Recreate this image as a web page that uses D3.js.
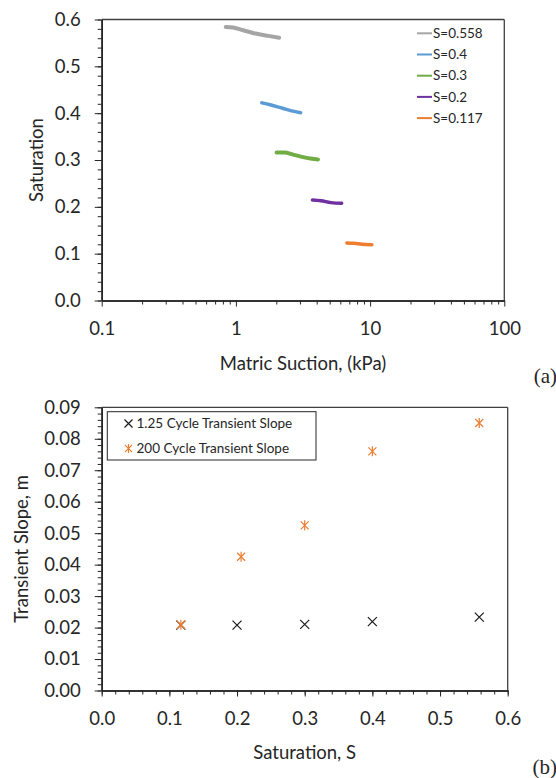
<!DOCTYPE html>
<html>
<head>
<meta charset="utf-8">
<script src="https://cdn.jsdelivr.net/npm/d3@7"></script>
<style>
  body { margin: 0; background: #fff; }
  svg text { font-family: Lato, "Open Sans", sans-serif; fill: #262626; }
  .axis path, .axis line { stroke: #262626; }
  .axis text { font-size: 18.5px; fill: #262626; }
</style>
</head>
<body>
<svg id="chart" width="556" height="778"></svg>
<script>

// ---- data, panel (a): suction (kPa) vs saturation, one short curve per test
var seriesNames = ["S=0.558", "S=0.4", "S=0.3", "S=0.2", "S=0.117"];
var seriesColors = ["#a5a5a5", "#5b9bd5", "#70ad47", "#7030a0", "#ed7d31"];
var suction558 = [0.84, 0.95, 1.1, 1.4, 1.75, 2.1];
var sat558     = [0.584, 0.583, 0.578, 0.570, 0.565, 0.561];
var suction04  = [1.56, 1.8, 2.2, 2.6, 3.04];
var sat04      = [0.422, 0.418, 0.411, 0.405, 0.401];
var suction03  = [2.01, 2.3, 2.7, 3.3, 4.09];
var sat03      = [0.316, 0.316, 0.311, 0.305, 0.301];
var suction02  = [3.72, 4.3, 5.1, 6.14];
var sat02      = [0.2146, 0.213, 0.209, 0.2076];
var suction0117 = [6.71, 7.6, 8.7, 10.3];
var sat0117     = [0.1228, 0.122, 0.120, 0.119];

var xTicksA = [0.1, 1, 10, 100];
var yTicksA = [0.0, 0.1, 0.2, 0.3, 0.4, 0.5, 0.6];

// ---- data, panel (b): transient slope vs saturation
var legendB = ["1.25 Cycle Transient Slope", "200 Cycle Transient Slope"];
var satCycle125   = [0.117, 0.2, 0.3, 0.4, 0.558];
var slopeCycle125 = [0.0208, 0.0208, 0.021, 0.0219, 0.0233];
var satCycle200   = [0.117, 0.206, 0.3, 0.4, 0.558];
var slopeCycle200 = [0.0209, 0.0425, 0.0525, 0.076, 0.085];

var xTicksB = [0.0, 0.1, 0.2, 0.3, 0.4, 0.5, 0.6];
var yTicksB = [0.00, 0.01, 0.02, 0.03, 0.04, 0.05, 0.06, 0.07, 0.08, 0.09];

var svg = d3.select("#chart");

// ================= panel (a) =================
var a = { left: 101.7, right: 504.3, top: 19.5, bottom: 300.5 };

var xA = d3.scaleLog().domain([0.1, 100]).range([a.left, a.right]);
var yA = d3.scaleLinear().domain([0, 0.6]).range([a.bottom, a.top]);

var minorXA = [];
[0.1, 1, 10].forEach(function(d) {
  for (var k = 2; k <= 9; k++) minorXA.push(d * k);
});
var minorYA = d3.range(0, 0.6001, 0.02);

var gA = svg.append("g");

// frame top and right
gA.append("line").attr("x1", a.left).attr("x2", a.right).attr("y1", a.top).attr("y2", a.top)
  .attr("stroke", "#404040").attr("stroke-width", 1.3);
gA.append("line").attr("x1", a.right).attr("x2", a.right).attr("y1", a.top).attr("y2", a.bottom)
  .attr("stroke", "#404040").attr("stroke-width", 1.3);

gA.append("g").attr("class", "axis").attr("transform", "translate(0," + a.bottom + ")")
  .call(d3.axisBottom(xA).tickValues(minorXA).tickSize(4).tickSizeOuter(0).tickFormat(""));
gA.append("g").attr("class", "axis").attr("transform", "translate(0," + a.bottom + ")")
  .call(d3.axisBottom(xA).tickValues(xTicksA).tickSize(6).tickSizeOuter(0).tickPadding(15)
    .tickFormat(function(d) { return d < 1 ? "0.1" : String(d); }));
gA.append("g").attr("class", "axis").attr("transform", "translate(" + a.left + ",0)")
  .call(d3.axisLeft(yA).tickValues(minorYA).tickSize(4).tickSizeOuter(0).tickFormat(""));
gA.append("g").attr("class", "axis").attr("transform", "translate(" + a.left + ",0)")
  .call(d3.axisLeft(yA).tickValues(yTicksA).tickSize(7).tickSizeOuter(0).tickPadding(14)
    .tickFormat(d3.format(".1f")));
gA.selectAll(".axis path.domain").attr("stroke-width", 1.6);

var curvesA = [
  { x: suction558, y: sat558, w: 4 },
  { x: suction04, y: sat04, w: 3.5 },
  { x: suction03, y: sat03, w: 4 },
  { x: suction02, y: sat02, w: 3.5 },
  { x: suction0117, y: sat0117, w: 3.5 }
];
var lineA = d3.line()
  .x(function(d) { return xA(d[0]); })
  .y(function(d) { return yA(d[1]); })
  .curve(d3.curveMonotoneX);

curvesA.forEach(function(c, i) {
  var pts = c.x.map(function(v, j) { return [v, c.y[j]]; });
  gA.append("path").attr("d", lineA(pts))
    .attr("fill", "none").attr("stroke", seriesColors[i])
    .attr("stroke-width", c.w).attr("stroke-linecap", "round");
});

// legend (a)
var legA = gA.append("g");
seriesNames.forEach(function(name, i) {
  var yy = 33.3 + i * 21.2;
  legA.append("line").attr("x1", 417).attr("x2", 432).attr("y1", yy).attr("y2", yy)
    .attr("stroke", seriesColors[i]).attr("stroke-width", 2);
  legA.append("text").attr("x", 433).attr("y", yy).attr("dy", "0.35em")
    .style("font-size", "13.5px").text(name);
});

gA.append("text").attr("transform", "translate(37," + (a.top + a.bottom) / 2 + ") rotate(-90)")
  .attr("text-anchor", "middle").attr("dy", "0.35em").style("font-size", "18.5px").text("Saturation");
gA.append("text").attr("x", (a.left + a.right) / 2).attr("y", 364)
  .attr("text-anchor", "middle").attr("dy", "0.35em").style("font-size", "18.5px").text("Matric Suction, (kPa)");
gA.append("text").attr("x", 557).attr("y", 376).attr("text-anchor", "end").attr("dy", "0.35em")
  .style("font-family", "'Liberation Serif', serif").style("font-size", "21px").text("(a)");

// ================= panel (b) =================
var b = { left: 101.7, right: 507.7, top: 407.3, bottom: 690.5 };

var xB = d3.scaleLinear().domain([0, 0.6]).range([b.left, b.right]);
var yB = d3.scaleLinear().domain([0, 0.09]).range([b.bottom, b.top]);

var minorXB = d3.range(0, 0.6001, 0.02);
var minorYB = d3.range(0, 0.09001, 0.002);

var gB = svg.append("g");

gB.append("line").attr("x1", b.left).attr("x2", b.right).attr("y1", b.top).attr("y2", b.top)
  .attr("stroke", "#404040").attr("stroke-width", 1.3);
gB.append("line").attr("x1", b.right).attr("x2", b.right).attr("y1", b.top).attr("y2", b.bottom)
  .attr("stroke", "#404040").attr("stroke-width", 1.3);

gB.append("g").attr("class", "axis").attr("transform", "translate(0," + b.bottom + ")")
  .call(d3.axisBottom(xB).tickValues(minorXB).tickSize(4).tickSizeOuter(0).tickFormat(""));
gB.append("g").attr("class", "axis").attr("transform", "translate(0," + b.bottom + ")")
  .call(d3.axisBottom(xB).tickValues(xTicksB).tickSize(6).tickSizeOuter(0).tickPadding(15)
    .tickFormat(d3.format(".1f")));
gB.append("g").attr("class", "axis").attr("transform", "translate(" + b.left + ",0)")
  .call(d3.axisLeft(yB).tickValues(minorYB).tickSize(4).tickSizeOuter(0).tickFormat(""));
gB.append("g").attr("class", "axis").attr("transform", "translate(" + b.left + ",0)")
  .call(d3.axisLeft(yB).tickValues(yTicksB).tickSize(7).tickSizeOuter(0).tickPadding(14)
    .tickFormat(d3.format(".2f")));
gB.selectAll(".axis path.domain").attr("stroke-width", 1.6);

function crossMark(g, cx, cy, r, color) {
  g.append("path")
    .attr("d", "M" + (cx - r) + "," + (cy - r) + "L" + (cx + r) + "," + (cy + r) +
               "M" + (cx - r) + "," + (cy + r) + "L" + (cx + r) + "," + (cy - r))
    .attr("stroke", color).attr("stroke-width", 1.2).attr("fill", "none");
}
function starMark(g, cx, cy, r, color) {
  crossMark(g, cx, cy, r, color);
  g.append("path")
    .attr("d", "M" + cx + "," + (cy - r * 1.25) + "L" + cx + "," + (cy + r * 1.25))
    .attr("stroke", color).attr("stroke-width", 1.2);
}

satCycle125.forEach(function(s, i) {
  crossMark(gB, xB(s), yB(slopeCycle125[i]), 4.5, "#1a1a1a");
});
satCycle200.forEach(function(s, i) {
  starMark(gB, xB(s), yB(slopeCycle200[i]), 4, "#ed7d31");
});

// legend (b)
var legB = gB.append("g");
legB.append("rect").attr("x", 107.3).attr("y", 411.7).attr("width", 208.7).attr("height", 48.3)
  .attr("fill", "#fff").attr("stroke", "#262626").attr("stroke-width", 1);
crossMark(legB, 128.5, 423.5, 4, "#1a1a1a");
starMark(legB, 128.5, 448.5, 3.6, "#ed7d31");
legendB.forEach(function(t, i) {
  legB.append("text").attr("x", 136.5).attr("y", 423.5 + i * 25).attr("dy", "0.35em")
    .style("font-size", "13.5px").text(t);
});

gB.append("text").attr("transform", "translate(22," + (b.top + b.bottom) / 2 + ") rotate(-90)")
  .attr("text-anchor", "middle").attr("dy", "0.35em").style("font-size", "18.5px").text("Transient Slope, m");
gB.append("text").attr("x", (b.left + b.right) / 2).attr("y", 753)
  .attr("text-anchor", "middle").attr("dy", "0.35em").style("font-size", "18.5px").text("Saturation, S");
gB.append("text").attr("x", 557).attr("y", 767).attr("text-anchor", "end").attr("dy", "0.35em")
  .style("font-family", "'Liberation Serif', serif").style("font-size", "21px").text("(b)");

</script>
</body>
</html>
